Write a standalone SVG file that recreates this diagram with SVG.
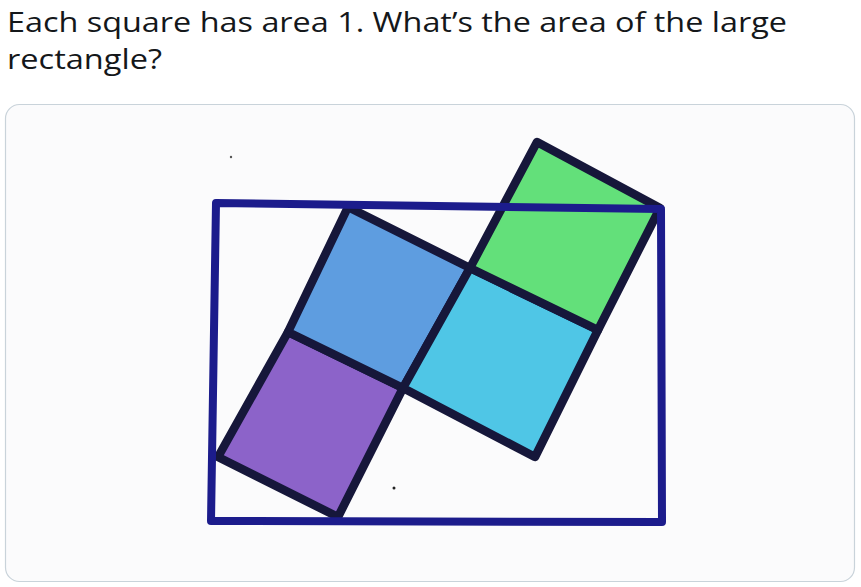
<svg xmlns="http://www.w3.org/2000/svg" width="861" height="587" viewBox="0 0 861 587">
<style>
.title{font-family:"Open Sans","Noto Sans","Liberation Sans",sans-serif;font-size:28px;fill:#14171a}
.sq{stroke:#16173a;stroke-width:8.5;stroke-linejoin:round}
.rect{fill:none;stroke:#1c1c8c;stroke-width:8;stroke-linejoin:round;stroke-linecap:round}
</style>
<rect x="0" y="0" width="861" height="587" fill="#ffffff"/>
<g id="title">
<text class="title" x="7" y="32" textLength="780" lengthAdjust="spacingAndGlyphs">Each square has area 1. What’s the area of the large</text>
<text class="title" x="7" y="69" textLength="155" lengthAdjust="spacingAndGlyphs">rectangle?</text>
</g>
<g id="card">
<rect x="5.5" y="104.5" width="849" height="477" rx="14" fill="#fbfbfc" stroke="#c9d3da" stroke-width="1.2"/>
<circle cx="231" cy="157" r="1.2" fill="#555"/>
<circle cx="394" cy="488" r="1.5" fill="#222"/>
</g>
<g id="square-purple">
<polygon class="sq" fill="#8c63c9" points="288,332 403,388 338,517 218,457"/>
</g>
<g id="square-blue">
<polygon class="sq" fill="#5e9de0" points="348,207 470,268 403,388 288,332"/>
</g>
<g id="square-cyan">
<polygon class="sq" fill="#4fc6e6" points="470,268 598,330 535,457 403,388"/>
</g>
<g id="square-green">
<polygon class="sq" fill="#63e07a" points="537,142 660,208 598,330 470,268"/>
</g>
<g id="large-rectangle">
<path class="rect" d="M216,203 L661,209 L662,522 L211,521 Z"/>
</g>
</svg>
